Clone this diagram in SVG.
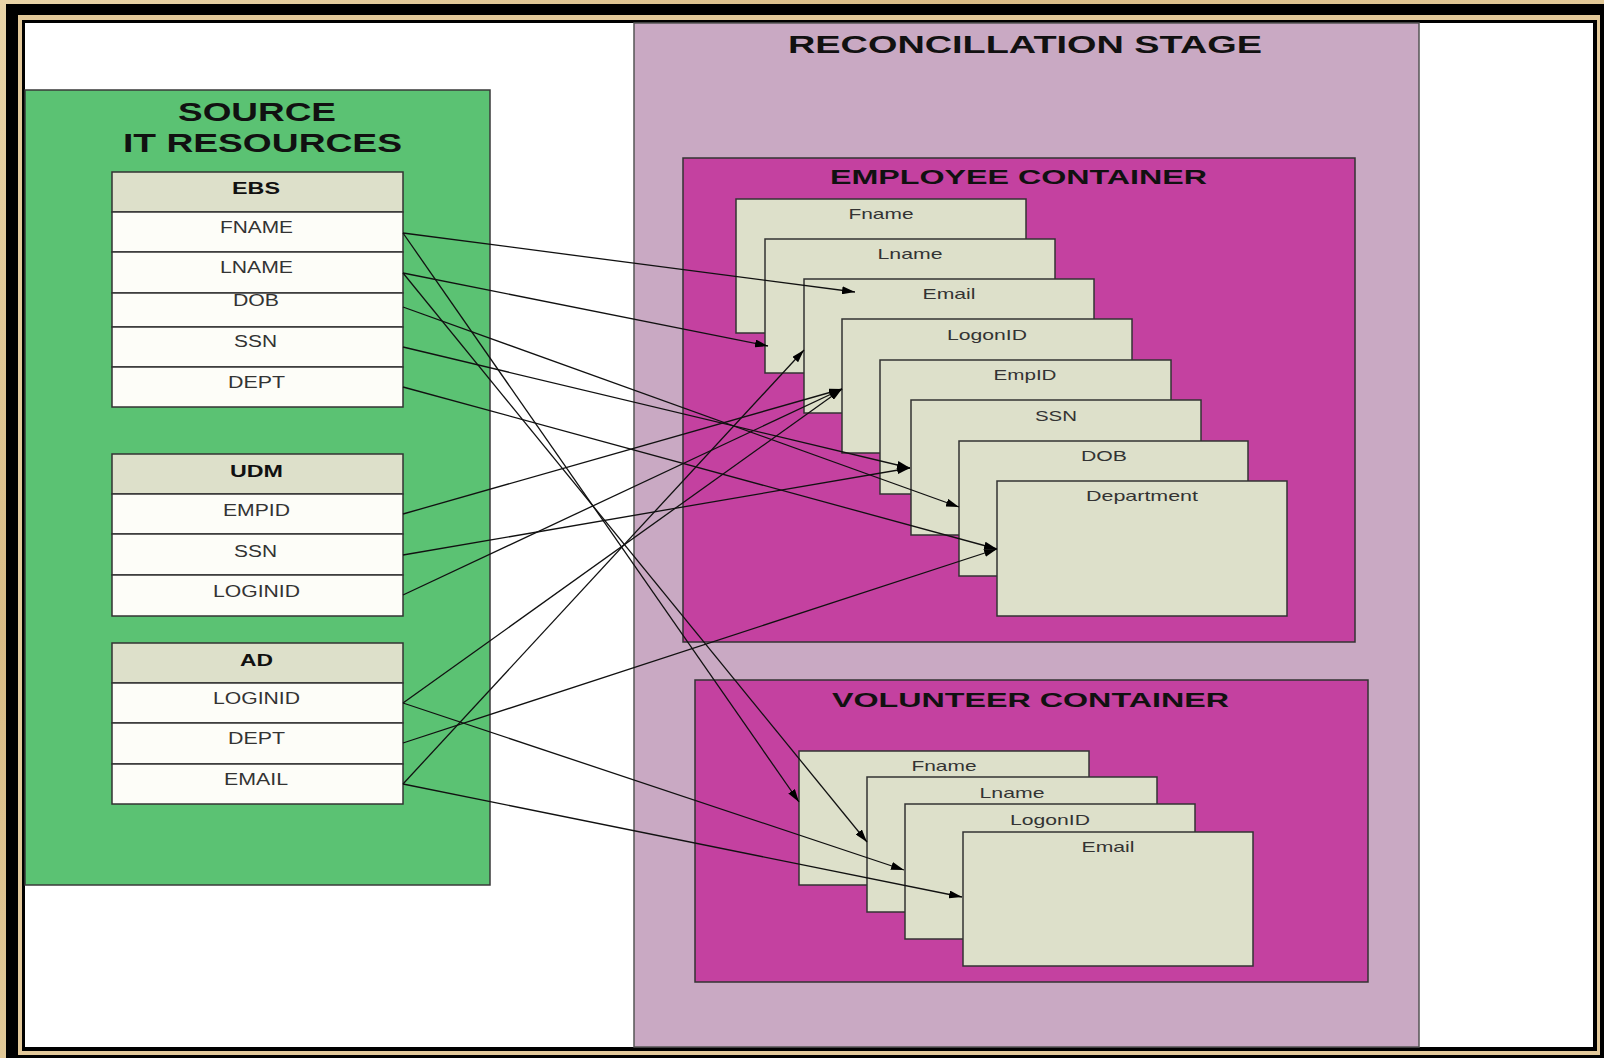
<svg xmlns="http://www.w3.org/2000/svg" width="1604" height="1058" viewBox="0 0 1604 1058">
  <defs>
    <linearGradient id="tan" x1="0" y1="0" x2="1" y2="1">
      <stop offset="0" stop-color="#e9d4a8"/>
      <stop offset="0.3" stop-color="#d9bb85"/>
      <stop offset="0.6" stop-color="#e6cfa0"/>
      <stop offset="1" stop-color="#d8bc88"/>
    </linearGradient>
    <marker id="arrow" viewBox="0 0 13 8" refX="13" refY="4" markerWidth="13" markerHeight="8" markerUnits="userSpaceOnUse" orient="auto">
      <path d="M0,0 L13,4 L0,8 z" fill="#000"/>
    </marker>
    <style>
      .panel { stroke: #3a3a3a; stroke-width: 1.5; }
      .green { fill: #5bc273; }
      .stage { fill: #c9a9c3; stroke: #555; stroke-width: 1.5; }
      .box { fill: #c441a0; stroke: #333; stroke-width: 1.5; }
      .card { fill: #dde0ca; stroke: #333; stroke-width: 1.5; }
      .hdr { fill: #dde0ca; stroke: #333; stroke-width: 1.5; }
      .cell { fill: #fdfdf8; stroke: #333; stroke-width: 1.5; }
      .title { font-family: "Liberation Sans", Arial, sans-serif; font-weight: bold; fill: #111; }
      .hname { font-family: "Liberation Sans", Arial, sans-serif; font-weight: bold; font-size: 17px; fill: #111; }
      .field { font-family: "Liberation Sans", Arial, sans-serif; font-size: 16px; fill: #333; }
      .lbl { font-family: "Liberation Sans", Arial, sans-serif; font-size: 15px; fill: #333; }
      .conn { stroke: #111; stroke-width: 1.3; fill: none; marker-end: url(#arrow); }
    </style>
  </defs>

  <!-- picture frame -->
  <g id="frame">
    <rect x="0" y="0" width="1604" height="1058" fill="url(#tan)"/>
    <rect x="6" y="4" width="1610" height="1070" fill="#000"/>
    <rect x="18" y="15" width="1582" height="1040" fill="#e3c99a"/>
    <rect x="22" y="20" width="1575" height="1031" fill="#000"/>
    <rect x="25" y="23" width="1568" height="1024" fill="#fff"/>
  </g>

  <!-- source side -->
  <g id="source-panel">
    <rect class="green panel" x="25" y="90" width="465" height="795"/>
    <text class="title" font-size="25" x="178" y="121" textLength="158" lengthAdjust="spacingAndGlyphs">SOURCE</text>
    <text class="title" font-size="25" x="123" y="152" textLength="279" lengthAdjust="spacingAndGlyphs">IT RESOURCES</text>
  </g>

  <g id="table-ebs">
    <rect class="hdr" x="112" y="172" width="291" height="40"/>
    <rect class="cell" x="112" y="212" width="291" height="40"/>
    <rect class="cell" x="112" y="252" width="291" height="41"/>
    <rect class="cell" x="112" y="293" width="291" height="34"/>
    <rect class="cell" x="112" y="327" width="291" height="40"/>
    <rect class="cell" x="112" y="367" width="291" height="40"/>
    <text class="hname" x="232" y="194" textLength="48" lengthAdjust="spacingAndGlyphs">EBS</text>
    <text class="field" x="220" y="233" textLength="73" lengthAdjust="spacingAndGlyphs">FNAME</text>
    <text class="field" x="220" y="273" textLength="73" lengthAdjust="spacingAndGlyphs">LNAME</text>
    <text class="field" x="233" y="306" textLength="46" lengthAdjust="spacingAndGlyphs">DOB</text>
    <text class="field" x="234" y="347" textLength="43" lengthAdjust="spacingAndGlyphs">SSN</text>
    <text class="field" x="228" y="388" textLength="57" lengthAdjust="spacingAndGlyphs">DEPT</text>
  </g>

  <g id="table-udm">
    <rect class="hdr" x="112" y="454" width="291" height="40"/>
    <rect class="cell" x="112" y="494" width="291" height="40"/>
    <rect class="cell" x="112" y="534" width="291" height="41"/>
    <rect class="cell" x="112" y="575" width="291" height="41"/>
    <text class="hname" x="230" y="477" textLength="53" lengthAdjust="spacingAndGlyphs">UDM</text>
    <text class="field" x="223" y="516" textLength="67" lengthAdjust="spacingAndGlyphs">EMPID</text>
    <text class="field" x="234" y="557" textLength="43" lengthAdjust="spacingAndGlyphs">SSN</text>
    <text class="field" x="213" y="597" textLength="87" lengthAdjust="spacingAndGlyphs">LOGINID</text>
  </g>

  <g id="table-ad">
    <rect class="hdr" x="112" y="643" width="291" height="40"/>
    <rect class="cell" x="112" y="683" width="291" height="40"/>
    <rect class="cell" x="112" y="723" width="291" height="41"/>
    <rect class="cell" x="112" y="764" width="291" height="40"/>
    <text class="hname" x="240" y="666" textLength="33" lengthAdjust="spacingAndGlyphs">AD</text>
    <text class="field" x="213" y="704" textLength="87" lengthAdjust="spacingAndGlyphs">LOGINID</text>
    <text class="field" x="228" y="744" textLength="57" lengthAdjust="spacingAndGlyphs">DEPT</text>
    <text class="field" x="224" y="785" textLength="64" lengthAdjust="spacingAndGlyphs">EMAIL</text>
  </g>

  <!-- reconciliation side -->
  <g id="reconciliation-stage">
    <rect class="stage" x="634" y="23" width="785" height="1024"/>
    <text class="title" font-size="24" x="788" y="53" textLength="474" lengthAdjust="spacingAndGlyphs">RECONCILLATION STAGE</text>
  </g>

  <g id="employee-container">
    <rect class="box" x="683" y="158" width="672" height="484"/>
    <text class="title" font-size="20" x="830" y="184" textLength="377" lengthAdjust="spacingAndGlyphs">EMPLOYEE CONTAINER</text>
  </g>
  <g id="emp-fname">
    <rect class="card" x="736" y="199" width="290" height="134"/>
    <text class="lbl" x="881" y="219" text-anchor="middle" textLength="65" lengthAdjust="spacingAndGlyphs">Fname</text>
  </g>
  <g id="emp-lname">
    <rect class="card" x="765" y="239" width="290" height="134"/>
    <text class="lbl" x="910" y="259" text-anchor="middle" textLength="65" lengthAdjust="spacingAndGlyphs">Lname</text>
  </g>
  <g id="emp-email">
    <rect class="card" x="804" y="279" width="290" height="134"/>
    <text class="lbl" x="949" y="299" text-anchor="middle" textLength="53" lengthAdjust="spacingAndGlyphs">Email</text>
  </g>
  <g id="emp-logonid">
    <rect class="card" x="842" y="319" width="290" height="134"/>
    <text class="lbl" x="987" y="340" text-anchor="middle" textLength="80" lengthAdjust="spacingAndGlyphs">LogonID</text>
  </g>
  <g id="emp-empid">
    <rect class="card" x="880" y="360" width="291" height="134"/>
    <text class="lbl" x="1025" y="380" text-anchor="middle" textLength="63" lengthAdjust="spacingAndGlyphs">EmpID</text>
  </g>
  <g id="emp-ssn">
    <rect class="card" x="911" y="400" width="290" height="135"/>
    <text class="lbl" x="1056" y="421" text-anchor="middle" textLength="42" lengthAdjust="spacingAndGlyphs">SSN</text>
  </g>
  <g id="emp-dob">
    <rect class="card" x="959" y="441" width="289" height="135"/>
    <text class="lbl" x="1104" y="461" text-anchor="middle" textLength="46" lengthAdjust="spacingAndGlyphs">DOB</text>
  </g>
  <g id="emp-department">
    <rect class="card" x="997" y="481" width="290" height="135"/>
    <text class="lbl" x="1142" y="501" text-anchor="middle" textLength="112" lengthAdjust="spacingAndGlyphs">Department</text>
  </g>

  <g id="volunteer-container">
    <rect class="box" x="695" y="680" width="673" height="302"/>
    <text class="title" font-size="20.5" x="832" y="707" textLength="397" lengthAdjust="spacingAndGlyphs">VOLUNTEER CONTAINER</text>
  </g>
  <g id="vol-fname">
    <rect class="card" x="799" y="751" width="290" height="134"/>
    <text class="lbl" x="944" y="771" text-anchor="middle" textLength="65" lengthAdjust="spacingAndGlyphs">Fname</text>
  </g>
  <g id="vol-lname">
    <rect class="card" x="867" y="777" width="290" height="135"/>
    <text class="lbl" x="1012" y="798" text-anchor="middle" textLength="65" lengthAdjust="spacingAndGlyphs">Lname</text>
  </g>
  <g id="vol-logonid">
    <rect class="card" x="905" y="804" width="290" height="135"/>
    <text class="lbl" x="1050" y="825" text-anchor="middle" textLength="80" lengthAdjust="spacingAndGlyphs">LogonID</text>
  </g>
  <g id="vol-email">
    <rect class="card" x="963" y="832" width="290" height="134"/>
    <text class="lbl" x="1108" y="852" text-anchor="middle" textLength="53" lengthAdjust="spacingAndGlyphs">Email</text>
  </g>

  <!-- field mappings -->
  <g id="connectors">
    <line class="conn" x1="403" y1="233" x2="855" y2="292"/>
    <line class="conn" x1="403" y1="233" x2="799" y2="802"/>
    <line class="conn" x1="403" y1="273" x2="768" y2="346"/>
    <line class="conn" x1="403" y1="273" x2="867" y2="842"/>
    <line class="conn" x1="403" y1="307" x2="959" y2="507"/>
    <line class="conn" x1="403" y1="347" x2="910" y2="468"/>
    <line class="conn" x1="403" y1="387" x2="997" y2="549"/>
    <line class="conn" x1="403" y1="514" x2="842" y2="389"/>
    <line class="conn" x1="403" y1="555" x2="910" y2="468"/>
    <line class="conn" x1="403" y1="595" x2="842" y2="389"/>
    <line class="conn" x1="403" y1="703" x2="842" y2="389"/>
    <line class="conn" x1="403" y1="703" x2="904" y2="870"/>
    <line class="conn" x1="403" y1="743" x2="997" y2="549"/>
    <line class="conn" x1="403" y1="784" x2="804" y2="350"/>
    <line class="conn" x1="403" y1="784" x2="962" y2="897"/>
  </g>
</svg>
